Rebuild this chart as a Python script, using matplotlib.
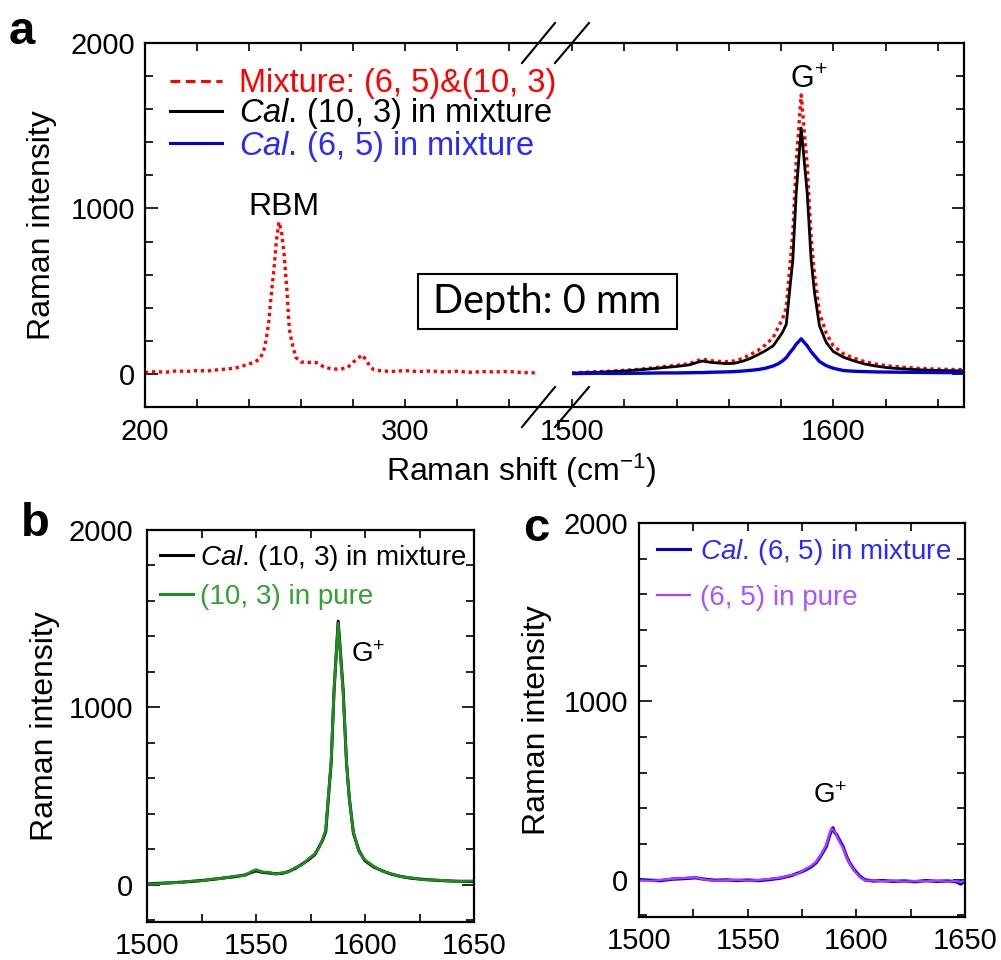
import matplotlib
matplotlib.use('Agg')
import matplotlib.pyplot as plt
from matplotlib.lines import Line2D
from matplotlib.patches import Rectangle
from matplotlib.ticker import FixedLocator

# ---------------- data ----------------
# panel a, RBM region (mixture only)
rbm_x = [200, 204, 208, 212, 216, 220, 224, 228, 232, 236, 239, 242, 244,
         245.5, 246.5, 247.5, 248.5, 249.5, 250.5, 251.5, 252.5, 253.5, 254.5,
         255.5, 256.5, 258, 260, 263, 266, 269, 272, 275, 278, 280, 282,
         283.5, 285, 286.5, 288, 291, 295, 300, 305, 310, 315, 320, 325, 330,
         335, 340, 345, 350]
rbm_mix = [8, 14, 10, 18, 15, 20, 18, 25, 30, 40, 55, 70, 90,
           130, 200, 300, 470, 620, 800, 918, 860, 720, 520,
           270, 190, 100, 72, 70, 68, 40, 30, 28, 40, 70, 95,
           115, 85, 45, 25, 18, 15, 20, 14, 18, 12, 16, 10, 14,
           12, 15, 8, 6]

# G band region, shared x grid
g_x = [1500, 1505, 1510, 1515, 1520, 1525, 1530, 1535, 1540, 1545, 1548,
       1550, 1553, 1556, 1559, 1562, 1565, 1568, 1571, 1574, 1577, 1579,
       1580.5, 1582, 1583.2, 1584.5, 1585.8, 1587.7, 1590, 1591.5, 1592.8,
       1594.7, 1597.3, 1600, 1604, 1608, 1612, 1616, 1621, 1627, 1634,
       1642, 1650]
g_mix = [6, 10, 14, 17, 22, 27, 35, 44, 52, 62, 80,
         88, 80, 76, 74, 78, 92, 115, 140, 175, 220, 285,
         330, 400, 620, 850, 1280, 1686, 1260, 825, 600,
         370, 245, 170, 120, 95, 74, 60, 48, 40, 32,
         28, 26]
g_cal103 = [4, 8, 10, 14, 18, 24, 30, 38, 45, 55, 70,
            78, 70, 66, 62, 64, 75, 92, 115, 140, 170, 215,
            250, 300, 490, 690, 1093, 1486, 1093, 690, 490,
            290, 190, 135, 100, 78, 60, 48, 37, 30, 24,
            20, 18]
g_pure103 = [2, 6, 12, 12, 20, 22, 32, 36, 48, 52, 75,
             85, 72, 70, 60, 68, 72, 96, 112, 145, 175, 210,
             255, 310, 500, 700, 1100, 1475, 1080, 700, 480,
             295, 185, 140, 104, 76, 62, 46, 40, 28, 26,
             18, 22]
g_cal65 = [2, 3, 4, 3, 3, 4, 5, 6, 6, 7, 8,
           8, 10, 11, 12, 14, 17, 21, 26, 34, 48, 62,
           78, 98, 125, 150, 180, 212, 170, 135, 110,
           75, 50, 34, 20, 16, 14, 12, 11, 10, 9,
           8, 8]

# panel c
c_x = [1500, 1505, 1510, 1515, 1520, 1526, 1530, 1535, 1540, 1545, 1550,
       1555, 1560, 1565, 1570, 1573, 1576, 1579, 1581.5, 1584, 1586.2,
       1587.5, 1588.5, 1589.2, 1590, 1591, 1592.5, 1593.8, 1595.5, 1596.9,
       1599, 1601.5, 1604, 1608, 1612, 1617, 1622, 1627, 1632, 1637, 1642,
       1646, 1648, 1650]
c_cal65 = [0, -4, -6, 2, 5, 10, 2, -4, -2, -5, -3,
           -6, 0, 8, 22, 35, 50, 70, 94, 140, 187,
           240, 275, 290, 265, 250, 215, 187, 130, 94,
           55, 20, -2, -8, -6, -10, -8, -12, -6, -10, -8,
           -12, -25, -10]
c_pure65 = [-4, -8, -2, 4, 8, 12, 0, -6, -4, -2, -6,
            -3, 4, 10, 25, 32, 55, 75, 100, 145, 195,
            250, 285, 280, 270, 245, 205, 180, 125, 90,
            50, 15, -6, -5, -10, -6, -12, -8, -10, -6, -12,
            -8, -15, -5]

labels_a = ['Mixture: (6, 5)&(10, 3)', r'$\it{Cal.}\,$(10, 3) in mixture',
            r'$\it{Cal.}\,$(6, 5) in mixture']
labels_b = [r'$\it{Cal.}\,$(10, 3) in mixture', '(10, 3) in pure']
labels_c = [r'$\it{Cal.}\,$(6, 5) in mixture', '(6, 5) in pure']

RED = '#ff0000'
BLUE = '#0000dd'
BLUE_T = '#2a2aff'
GREEN = '#1e8c1e'
GREEN_T = '#35a035'
PURPLE = '#b43cff'
PURPLE_T = '#a855ff'

plt.rcParams['font.family'] = ['Liberation Sans', 'DejaVu Sans']
plt.rcParams['mathtext.fontset'] = 'custom'
plt.rcParams['mathtext.rm'] = 'Liberation Sans'
plt.rcParams['mathtext.it'] = 'Liberation Sans:italic'
plt.rcParams['mathtext.bf'] = 'Liberation Sans:bold'

W, H = 1001, 960
fig = plt.figure(figsize=(W / 100, H / 100), dpi=100)


def px_rect(l, t, r, b):
    return [l / W, 1 - b / H, (r - l) / W, (b - t) / H]


def style(ax, pad_y=7, pad_x=7, size=21):
    for s in ax.spines.values():
        s.set_linewidth(1.6)
    ax.tick_params(which='both', direction='in', width=1.2,
                   labelsize=size, top=True, right=True)
    ax.tick_params(axis='y', which='major', length=9, pad=pad_y)
    ax.tick_params(axis='y', which='minor', length=5.5)
    ax.tick_params(axis='x', which='both', length=5.5, pad=pad_x)


# ---------------- panel a (broken x axis) ----------------
ax1 = fig.add_axes(px_rect(145, 43, 572, 407))
ax2 = fig.add_axes(px_rect(572, 43, 964, 407))

ax1.plot(rbm_x, rbm_mix, color=RED, lw=2.4, linestyle=(0, (1, 1.1)))
ax2.plot(g_x, g_mix, color=RED, lw=2.4, linestyle=(0, (1, 1.1)))
ax2.plot(g_x, g_cal103, color='black', lw=2.0)
ax2.plot(g_x, g_cal65, color=BLUE, lw=2.4)

for ax in (ax1, ax2):
    ax.set_ylim(-200, 2000)
    ax.yaxis.set_major_locator(FixedLocator([0, 1000, 2000]))
    ax.yaxis.set_minor_locator(FixedLocator(list(range(-200, 2001, 200))))
    style(ax, pad_y=7, pad_x=8)

ax1.set_xlim(200, 364.2)
ax1.xaxis.set_major_locator(FixedLocator([200, 300]))
ax1.xaxis.set_minor_locator(FixedLocator([220, 240, 260, 280, 320, 340]))
ax1.spines['right'].set_visible(False)
ax1.tick_params(axis='y', which='both', right=False)

ax2.set_xlim(1500, 1650)
ax2.xaxis.set_major_locator(FixedLocator([1500, 1600]))
ax2.xaxis.set_minor_locator(FixedLocator([1520, 1540, 1560, 1580, 1620, 1640]))
ax2.spines['left'].set_visible(False)
ax2.tick_params(axis='y', which='both', left=False, labelleft=False)

ax1.set_ylabel('Raman intensity', fontsize=23)
ax1.yaxis.set_label_coords(-0.206, 0.5)
fig.text(521 / W, 1 - 481 / H, 'Raman shift (cm$^{-1}$)', fontsize=23,
         ha='center', va='baseline')

ax1.text(253.5, 961, 'RBM', fontsize=23, ha='center', va='baseline')
ax2.text(1590.5, 1728, 'G$^{+}$', fontsize=22, ha='center', va='baseline')

# break marks
for xa, xb in ((522, 555), (555, 589)):
    for yt in (43, 407):
        fig.add_artist(Line2D([xa / W, xb / W], [1 - (yt + 20) / H, 1 - (yt - 20) / H],
                              transform=fig.transFigure, color='black', lw=1.5))

fig.add_artist(Rectangle((418 / W, 1 - 329 / H), 259 / W, 55 / H,
                         transform=fig.transFigure, fill=False, lw=1.5,
                         ec='black'))
fig.text(547 / W, 1 - 302 / H, 'Depth: 0 mm', fontsize=28.5, family='Lato',
         ha='center', va='center')

handles_a = [Line2D([], [], color=RED, lw=2.2, linestyle=(0, (3.2, 1.8))),
             Line2D([], [], color='black', lw=2.2),
             Line2D([], [], color=BLUE, lw=2.2)]
fig.legend(handles_a, labels_a, loc='upper left',
           bbox_to_anchor=(170 / W, 1 - 68 / H), frameon=False, fontsize=23.5,
           handlelength=1.6, handletextpad=0.5, labelspacing=-0.08,
           borderpad=0, borderaxespad=0,
           labelcolor=[RED, 'black', BLUE_T])

# ---------------- panel b ----------------
axb = fig.add_axes(px_rect(147, 530, 474, 922))
axb.plot(g_x, g_cal103, color='black', lw=2.2)
axb.plot(g_x, g_pure103, color=GREEN, lw=2.0)

# ---------------- panel c ----------------
axc = fig.add_axes(px_rect(639, 523, 965, 917))
axc.plot(c_x, c_cal65, color=BLUE, lw=2.4)
axc.plot(c_x, c_pure65, color=PURPLE, lw=1.6)

for ax in (axb, axc):
    ax.set_xlim(1500, 1650)
    ax.set_ylim(-210, 2000)
    ax.xaxis.set_major_locator(FixedLocator([1500, 1550, 1600, 1650]))
    ax.xaxis.set_minor_locator(FixedLocator([1525, 1575, 1625]))
    ax.yaxis.set_major_locator(FixedLocator([0, 1000, 2000]))
    ax.yaxis.set_minor_locator(FixedLocator(list(range(-200, 2001, 200))))
    ax.set_ylabel('Raman intensity', fontsize=23)

style(axb, pad_y=10, pad_x=7)
style(axc, pad_y=8, pad_x=7)
axb.yaxis.set_label_coords(-0.267, 0.5)
axc.yaxis.set_label_coords(-0.268, 0.5)

axb.text(1601.6, 1256, 'G$^{+}$', fontsize=20, ha='center', va='baseline')
axc.text(1587.9, 431, 'G$^{+}$', fontsize=20, ha='center', va='baseline')

fig.legend([Line2D([], [], color='black', lw=2.2), Line2D([], [], color=GREEN, lw=2.2)],
           labels_b, loc='upper left', bbox_to_anchor=(160 / W, 1 - 543 / H),
           frameon=False, fontsize=20, handlelength=1.2, handletextpad=0.25,
           labelspacing=0.4, borderpad=0, borderaxespad=0,
           labelcolor=['black', GREEN_T])
fig.legend([Line2D([], [], color=BLUE, lw=2.2), Line2D([], [], color=PURPLE, lw=1.6)],
           labels_c, loc='upper left', bbox_to_anchor=(657 / W, 1 - 537 / H),
           frameon=False, fontsize=20, handlelength=1.2, handletextpad=0.36,
           labelspacing=0.65, borderpad=0, borderaxespad=0,
           labelcolor=[BLUE_T, PURPLE_T])

# panel letters
fig.text(9 / W, 1 - 44 / H, 'a', fontsize=34, weight='bold', va='baseline')
fig.text(21 / W, 1 - 536 / H, 'b', fontsize=34, weight='bold', va='baseline')
fig.text(523 / W, 1 - 541 / H, 'c', fontsize=34, weight='bold', va='baseline')

fig.savefig('out.png', dpi=100)
